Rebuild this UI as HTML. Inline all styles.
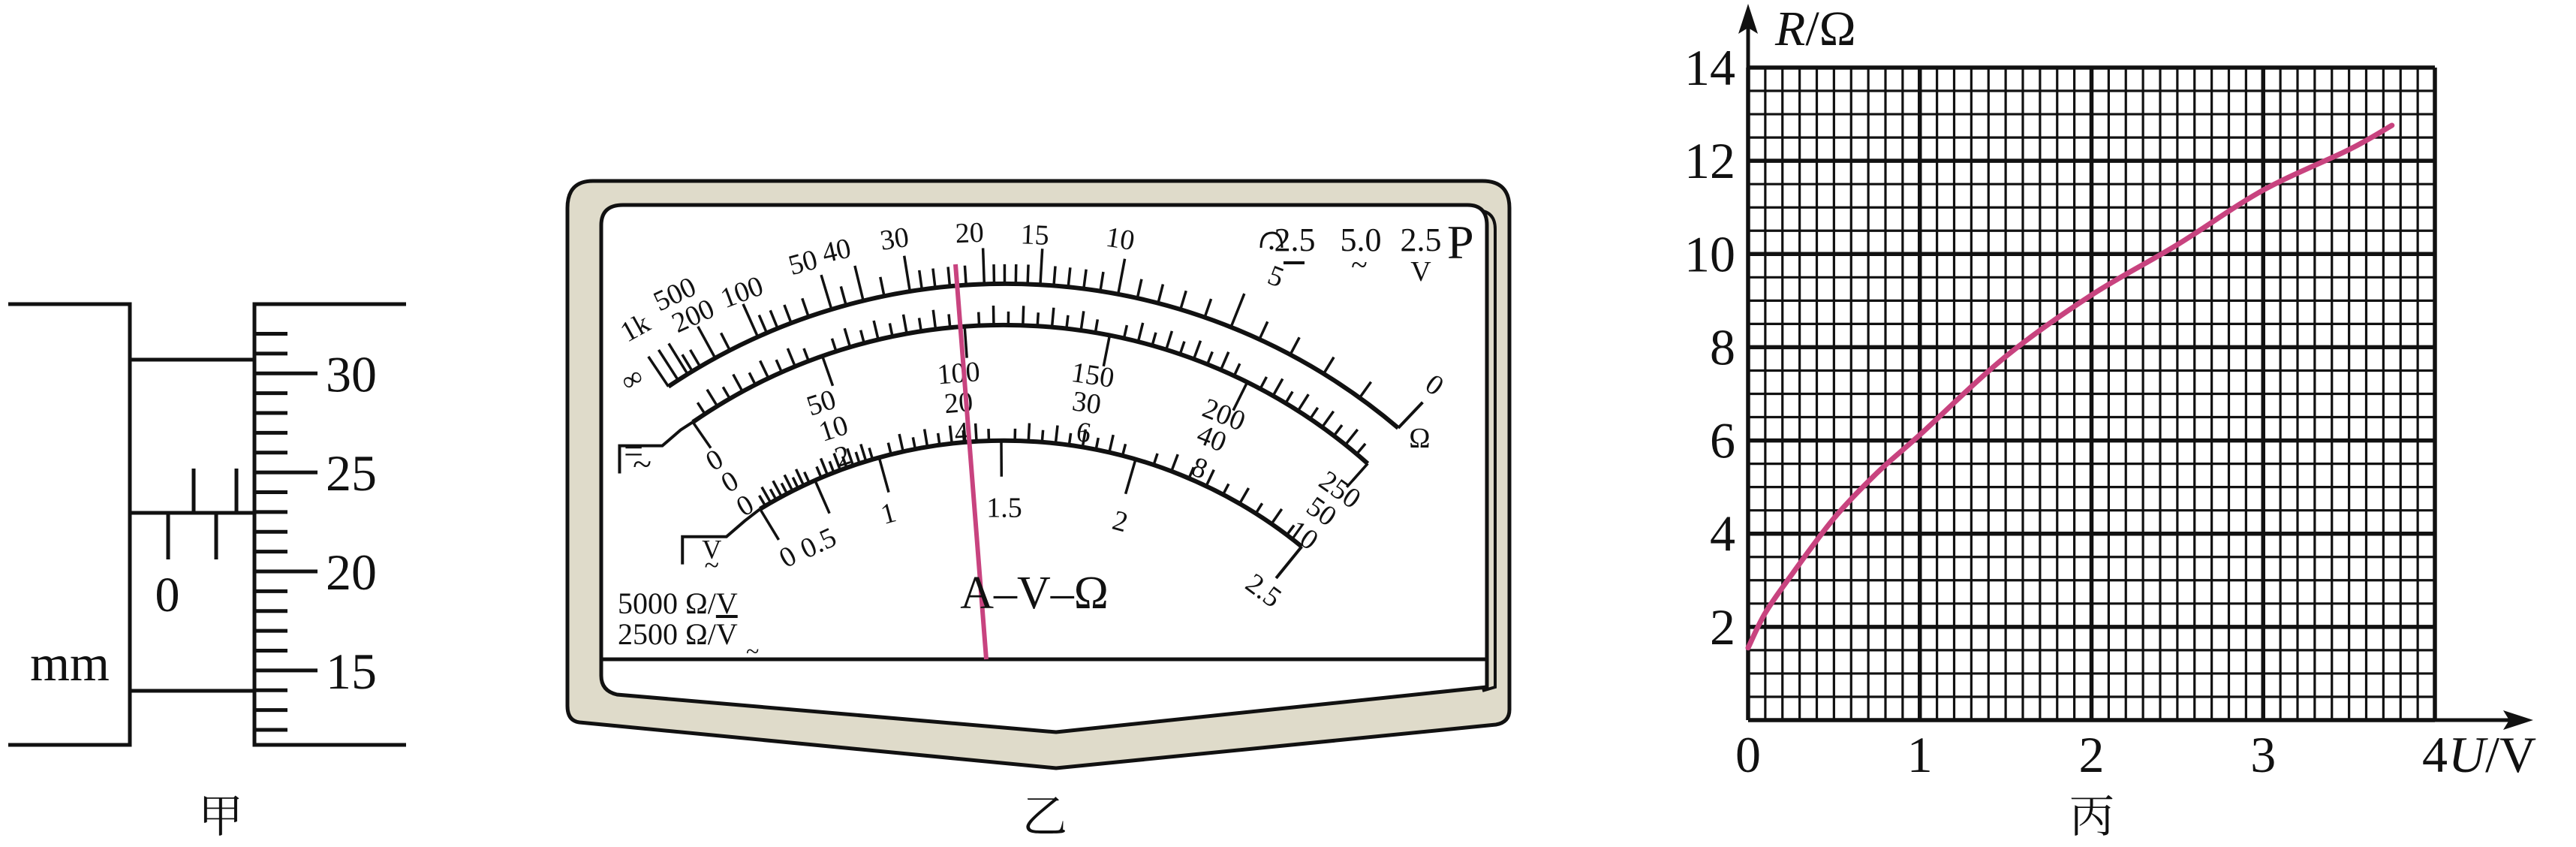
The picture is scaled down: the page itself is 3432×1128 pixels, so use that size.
<!DOCTYPE html>
<html><head><meta charset="utf-8"><style>
html,body{margin:0;padding:0;background:#fff}
svg{display:block}
text{font-family:"Liberation Serif","Noto Serif CJK SC",serif;fill:#111}
</style></head><body>
<svg id="root" width="3432" height="1128" viewBox="0 0 3432 1128" xmlns="http://www.w3.org/2000/svg">
<!-- 甲 micrometer -->
<g id="micro" stroke="#111" stroke-width="5" fill="none">
  <polyline points="11,405 173,405 173,992 11,992"/>
  <line x1="173" y1="479" x2="339" y2="479"/>
  <line x1="173" y1="683" x2="339" y2="683"/>
  <line x1="173" y1="920" x2="339" y2="920"/>
  <polyline points="541,405 339,405 339,992 541,992"/>
  <line x1="258" y1="624" x2="258" y2="683"/>
  <line x1="315" y1="624" x2="315" y2="683"/>
  <line x1="224" y1="683" x2="224" y2="745"/>
  <line x1="288" y1="683" x2="288" y2="745"/>
</g>
<text x="223" y="814" font-size="66" text-anchor="middle">0</text>
<text x="93" y="906" font-size="68" text-anchor="middle">mm</text>
<text x="294" y="1108" font-size="60" text-anchor="middle">甲</text>
<g id="thimbleTicks" stroke="#111" stroke-width="5"></g>

<!-- 乙 meter -->
<path d="M790,241 L1975,241 Q2011,241 2011,277 L2011,945 Q2011,962 1993,965 L1407,1023 L772,962 Q756,960 756,940 L756,277 Q756,241 790,241 Z" fill="#dfdbca" stroke="#111" stroke-width="5"/>
<path d="M1970,280 Q1992,282 1992,305 L1992,915 L1975,920" fill="none" stroke="#111" stroke-width="4"/>
<path d="M830,273 L1955,273 Q1981,273 1981,300 L1981,915 L1407,975 L822,925 Q801,920 801,900 L801,300 Q801,273 830,273 Z" fill="#fff" stroke="#111" stroke-width="5"/>
<line x1="801" y1="878" x2="1981" y2="878" stroke="#111" stroke-width="5"/>
<g id="meter"></g>
<text x="1378" y="810" font-size="62" text-anchor="middle">A–V–Ω</text>
<text x="823" y="817" font-size="40">5000 Ω/<tspan text-decoration="underline">V</tspan></text>
<text x="823" y="858" font-size="40">2500 Ω/V</text>
<text x="994" y="878" font-size="32">~</text>
<g>
<text x="1725" y="334" font-size="44" text-anchor="middle">2.5</text>
<text x="1813" y="334" font-size="44" text-anchor="middle">5.0</text>
<text x="1893" y="334" font-size="44" text-anchor="middle">2.5</text>
<text x="1928" y="344" font-size="64">P</text>
<line x1="1710" y1="350" x2="1738" y2="350" stroke="#111" stroke-width="4"/>
<text x="1811" y="366" font-size="40" text-anchor="middle">~</text>
<text x="1893" y="374" font-size="38" text-anchor="middle">V</text>
<path d="M1680,330 Q1680,310 1695,310 Q1708,310 1708,330" fill="none" stroke="#111" stroke-width="3"/>
<circle cx="1694" cy="330" r="2.5" fill="#111"/>
</g>
<text x="1392" y="1108" font-size="60" text-anchor="middle">乙</text>

<!-- 丙 chart -->
<g id="chart"></g>
<text x="2365" y="60" font-size="66"><tspan font-style="italic">R</tspan>/Ω</text>
<text x="3262" y="1028" font-size="68"><tspan font-style="italic">U</tspan>/V</text>
<text x="2787" y="1108" font-size="60" text-anchor="middle">丙</text>
</svg>
<script>
// ---------- chart data ----------
const uValues = [0, 0.1, 0.25, 0.5, 0.75, 1, 1.5, 2, 2.5, 3, 3.5, 3.75];
const rValues = [1.55, 2.3, 3.1, 4.33, 5.3, 6.12, 7.8, 9.12, 10.2, 11.37, 12.24, 12.76];
const xTicks = [0, 1, 2, 3, 4];
const yTicks = [2, 4, 6, 8, 10, 12, 14];
const thimbleValues = [12,13,14,15,16,17,18,19,20,21,22,23,24,25,26,27,28,29,30,31,32];

const NS = "http://www.w3.org/2000/svg";
function mk(tag, attrs, parent){const e=document.createElementNS(NS,tag);for(const k in attrs)e.setAttribute(k,attrs[k]);parent.appendChild(e);return e;}

// thimble scale
const tt=document.getElementById('thimbleTicks');
thimbleValues.forEach(v=>{
  const y=405+(375+(30-v)*50-200)/1.896;
  const long=v%5===0;
  const l=mk('line',{x1:339,y1:y,x2:long?423:383,y2:y},tt);
  
  
  if(long){const t=mk('text',{x:468,y:y+24,'font-size':68,'text-anchor':'middle',stroke:'none'},document.getElementById('root'));t.textContent=v;
    
    }
});

// chart
const X0=2329,X1=3244,Y0=959,Y1=90;
const xs=u=>X0+u/4*(X1-X0), ys=r=>Y0-r/14*(Y0-Y1);
const ch=document.getElementById('chart');
for(let i=0;i<=40;i++){const x=xs(i/10);const l=mk('line',{x1:x,y1:Y1,x2:x,y2:Y0,stroke:'#111','stroke-width':i%10===0?5.5:3.2},ch);
  
  }
for(let i=0;i<=28;i++){const y=ys(i/2);const l=mk('line',{x1:X0,y1:y,x2:X1,y2:y,stroke:'#111','stroke-width':i%4===0?5.5:3.2},ch);
  
  }
let ax=mk('line',{x1:X0,y1:Y0,x2:3350,y2:Y0,stroke:'#111','stroke-width':5},ch);


let ay=mk('line',{x1:X0,y1:Y0,x2:X0,y2:25,stroke:'#111','stroke-width':5},ch);


let a1=mk('path',{d:`M3375,${Y0} L3335,${Y0-13} L3343,${Y0} L3335,${Y0+13} Z`,fill:'#111'},ch);


let a2=mk('path',{d:`M${X0},5 L${X0-13},45 L${X0},37 L${X0+13},45 Z`,fill:'#111'},ch);


xTicks.forEach(v=>{const t=mk('text',{x:xs(v),y:1028,'font-size':68,'text-anchor':'middle'},ch);t.textContent=v;
  
  });
yTicks.forEach(v=>{const t=mk('text',{x:2312,y:ys(v)+23,'font-size':68,'text-anchor':'end'},ch);t.textContent=v;
  
  });
// smooth curve (Catmull-Rom)
const pts=uValues.map((u,i)=>[xs(u),ys(rValues[i])]);
let d=`M${pts[0][0]},${pts[0][1]}`;
for(let i=0;i<pts.length-1;i++){const p0=pts[i-1]||pts[i],p1=pts[i],p2=pts[i+1],p3=pts[i+2]||p2;
  d+=` C${p1[0]+(p2[0]-p0[0])/6},${p1[1]+(p2[1]-p0[1])/6} ${p2[0]-(p3[0]-p1[0])/6},${p2[1]-(p3[1]-p1[1])/6} ${p2[0]},${p2[1]}`;}
const cv=mk('path',{d:d,fill:'none',stroke:'#c8437f','stroke-width':7,'stroke-linecap':'round'},ch);



// ---------- meter ----------
const m=document.getElementById('meter');
const Z=(zx,zy)=>[740+zx/1.229,220+zy/1.9];
function circ(a,b,c){const [ax,ay]=a,[bx,by]=b,[cx,cy]=c;const D=2*(ax*(by-cy)+bx*(cy-ay)+cx*(ay-by));
  const ux=((ax*ax+ay*ay)*(by-cy)+(bx*bx+by*by)*(cy-ay)+(cx*cx+cy*cy)*(ay-by))/D;
  const uy=((ax*ax+ay*ay)*(cx-bx)+(bx*bx+by*by)*(ax-cx)+(cx*cx+cy*cy)*(bx-ax))/D;
  return {cx:ux,cy:uy,r:Math.hypot(ax-ux,ay-uy)};}
function arcObj(L,T,R){const c=circ(Z(...L),Z(...T),Z(...R));
  c.tL=Math.atan2(Z(...L)[0]-c.cx,c.cy-Z(...L)[1]);c.tR=Math.atan2(Z(...R)[0]-c.cx,c.cy-Z(...R)[1]);return c;}
const A1=arcObj([185,560],[740,300],[1380,665]);
const A2=arcObj([225,650],[760,405],[1330,755]);
const A3=arcObj([335,870],[720,697],[1222,965]);
function P(a,t,r){return [a.cx+r*Math.sin(t),a.cy-r*Math.cos(t)];}
function drawArc(a,name){const p=P(a,a.tL,a.r),q=P(a,a.tR,a.r);
  const e=mk('path',{d:`M${p[0]},${p[1]} A${a.r},${a.r} 0 0 1 ${q[0]},${q[1]}`,fill:'none',stroke:'#111','stroke-width':6},m);
  
  }
function tick(a,t,r1,r2,w){const p=P(a,t,a.r+r1),q=P(a,t,a.r+r2);
  const e=mk('line',{x1:p[0],y1:p[1],x2:q[0],y2:q[1],stroke:'#111','stroke-width':w||3.5},m);
  
  }
drawArc(A1,'ohm-arc');drawArc(A2,'dc-arc');drawArc(A3,'ac-arc');
// ohm scale
const ohmTicks=[0,1,2,3,4,5,6,7,8,9,10,11,12,13,14,15,16,17,18,19,20,22,24,26,28,30,35,40,45,50,60,70,80,90,100,150,200,300,400,500,1000,1e9];
const ohmLong=[0,5,10,15,20,30,40,50,100,200,500,1000,1e9];
ohmTicks.forEach(v=>{const s=15/(v+15);const t=A1.tL+s*(A1.tR-A1.tL);tick(A1,t,0,ohmLong.includes(v)?(v===0||v===1e9?0:48):26,3.5);});
tick(A1,A1.tL,0,48,3.5);
// dc scale
for(let v=0;v<=250;v+=5){const t=A2.tL+v/250*(A2.tR-A2.tL);
  if(v%50===0)tick(A2,t,0,-42,3.5);else tick(A2,t,0,v%10===0?26:18,3.5);}
tick(A2,A2.tR,0,-30,3.5);
// ac scale (non-linear start)
const acV=[0,0.5,1,1.5,2,2.5], acX=[335,425,530,730,950,1222];
const acT=acV.map((v,i)=>{if(i===0)return A3.tL;if(i===acV.length-1)return A3.tR;const x=Z(acX[i],0)[0];return Math.asin((x-A3.cx)/A3.r);});
function acAng(v){for(let i=0;i<acV.length-1;i++){if(v<=acV[i+1]+1e-9){const f=(v-acV[i])/(acV[i+1]-acV[i]);return acT[i]+f*(acT[i+1]-acT[i]);}}return A3.tR;}
for(let k=0;k<=50;k++){const v=k*0.05;const t=acAng(v);
  if(k%10===0)tick(A3,t,0,-48,3.5);else tick(A3,t,0,k%2===0?24:16,3.5);}
// end lines
function pl(pts,name){const e=mk('polyline',{points:pts.map(p=>Z(...p).join(',')).join(' '),fill:'none',stroke:'#111','stroke-width':4},m);
  
  }
pl([[1380,665],[1420,600]],'ohm-zero-end');
pl([[225,650],[205,670],[175,710],[105,710],[105,780]],'acdc-bracket');
pl([[335,870],[310,900],[280,940],[208,940],[208,1010]],'v-bracket');
pl([[1222,965],[1180,1045]],'ac-end-line');
// labels
const labels=[
 ['∞',125,540],['1k',130,410],['500',195,325],['200',225,380],['100',305,320],['50',405,245],['40',460,215],['30',555,185],['20',678,170],['15',785,175],['10',925,185],['5',1180,280],['0',1440,555],['Ω',1415,690],
 ['0',260,745],['0',285,800],['0',310,860],['50',435,600],['10',455,665],['2',470,735],
 ['100',660,525],['20',660,600],['4',665,675],['150',880,530],['30',870,600],['6',865,675],
 ['200',1095,630],['40',1075,690],['8',1055,765],['250',1285,820],['50',1255,875],['10',1225,935],
 ['0',380,990],['0.5',430,955],['1',545,880],['1.5',735,865],['2',925,900],['2.5',1160,1075]];
labels.forEach(([s,zx,zy])=>{const [x,y]=Z(zx,zy);const ang=Math.atan2(x-A2.cx,A2.cy-y)*180/Math.PI;
  const rot=(s==='Ω'||s==='1.5')?0:ang*0.85;
  const t=mk('text',{x:x,y:y+13,'font-size':38,'text-anchor':'middle',transform:`rotate(${rot} ${x} ${y})`},m);t.textContent=s;
  
  });
// bracket symbols
[['=',128,752,46],['~',142,785,46],['V',256,995,36],['~',256,1035,36]].forEach(([s,zx,zy,f])=>{const [x,y]=Z(zx,zy);
  const t=mk('text',{x:x,y:y,'font-size':f,'text-anchor':'middle'},m);t.textContent=s;
  
  });
// needle
const nd=mk('line',{x1:1273,y1:352,x2:1314,y2:878,stroke:'#c8437f','stroke-width':6},m);


</script>
</body></html>
